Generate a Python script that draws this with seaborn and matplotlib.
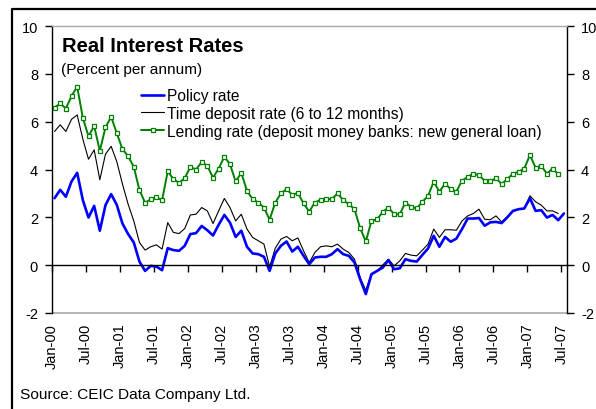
import matplotlib
matplotlib.use("Agg")
import matplotlib.pyplot as plt
from matplotlib.lines import Line2D
import numpy as np
import pandas as pd
import seaborn as sns

# Monthly real interest rates, Jan-2000 onwards (percent per annum)
policy_rate = [
    2.80, 3.15, 2.86, 3.50, 3.86, 2.72, 1.99, 2.48, 1.44, 2.51, 2.97, 2.52,
    1.74, 1.30, 0.95, 0.15, -0.24, -0.03, -0.06, -0.21, 0.71, 0.63, 0.60, 0.81,
    1.30, 1.34, 1.64, 1.46, 1.24, 1.69, 2.10, 1.78, 1.18, 1.44, 0.77, 0.49,
    0.46, 0.35, -0.24, 0.49, 0.81, 0.99, 0.57, 0.77, 0.39, 0.04, 0.32, 0.35,
    0.35, 0.46, 0.67, 0.46, 0.39, 0.11, -0.59, -1.21, -0.38, -0.24, -0.10, 0.21,
    -0.17, -0.13, 0.25, 0.18, 0.15, 0.43, 0.70, 1.23, 0.77, 1.18, 0.98, 1.11,
    1.51, 1.95, 1.95, 1.97, 1.65, 1.79, 1.81, 1.76, 2.00, 2.27, 2.34, 2.37,
    2.80, 2.27, 2.30, 1.99, 2.10, 1.88, 2.16,
]
time_deposit_rate = [
    5.59, 5.87, 5.59, 6.10, 6.28, 5.27, 4.43, 4.82, 3.57, 4.64, 4.97, 4.33,
    3.39, 2.55, 1.85, 0.95, 0.63, 0.77, 0.85, 0.67, 1.78, 1.37, 1.32, 1.53,
    2.10, 2.13, 2.41, 2.27, 1.74, 2.27, 2.79, 2.41, 1.85, 2.13, 1.51, 1.16,
    1.02, 0.88, -0.07, 0.71, 1.09, 1.20, 1.02, 1.14, 0.60, 0.11, 0.53, 0.77,
    0.81, 0.77, 0.88, 0.67, 0.53, 0.25, -0.52, -1.05, -0.35, -0.24, 0.01, 0.25,
    -0.03, 0.18, 0.49, 0.42, 0.39, 0.63, 0.88, 1.51, 1.16, 1.48, 1.48, 1.46,
    1.85, 2.06, 2.16, 2.34, 1.92, 1.90, 2.06, 1.81, 2.02, 2.24, 2.34, 2.37,
    2.90, 2.65, 2.51, 2.27, 2.27, 2.16,
]
lending_rate = [
    6.59, 6.76, 6.55, 7.07, 7.46, 6.16, 5.39, 5.82, 4.78, 5.76, 6.20, 5.52,
    4.85, 4.56, 4.11, 3.14, 2.61, 2.76, 2.83, 2.72, 3.92, 3.60, 3.44, 3.64,
    4.11, 4.00, 4.31, 4.15, 3.66, 4.04, 4.53, 4.22, 3.50, 3.86, 3.11, 2.76,
    2.62, 2.41, 1.90, 2.62, 3.00, 3.18, 2.94, 3.02, 2.58, 2.24, 2.62, 2.73,
    2.76, 2.76, 3.00, 2.72, 2.55, 2.34, 1.55, 0.99, 1.85, 1.92, 2.23, 2.41,
    2.13, 2.13, 2.62, 2.44, 2.37, 2.65, 2.90, 3.49, 3.07, 3.41, 3.18, 3.08,
    3.53, 3.69, 3.83, 3.76, 3.53, 3.50, 3.64, 3.39, 3.60, 3.83, 3.90, 4.04,
    4.60, 4.08, 4.15, 3.83, 4.04, 3.80,
]
tick_labels = ["Jan-00", "Jul-00", "Jan-01", "Jul-01", "Jan-02", "Jul-02",
               "Jan-03", "Jul-03", "Jan-04", "Jul-04", "Jan-05", "Jul-05",
               "Jan-06", "Jul-06", "Jan-07", "Jul-07"]
series_names = ["Policy rate", "Time deposit rate (6 to 12 months)",
                "Lending rate (deposit money banks: new general loan)"]

sns.set_style("white")
plt.rcParams["font.family"] = ["Liberation Sans", "DejaVu Sans"]
plt.rcParams["text.color"] = "black"
plt.rcParams["xtick.color"] = "black"
plt.rcParams["ytick.color"] = "black"

W, H = 596, 410
fig = plt.figure(figsize=(W / 100, H / 100), dpi=100)
ax = fig.add_axes([52 / W, 1 - 314 / H, 515 / W, 287 / H])

# Each observation sits in the middle of its month
def frame(vals):
    return pd.DataFrame({"month": np.arange(len(vals)) + 0.45, "rate": vals})

MARK = dict(marker="s", markersize=3.4, markerfacecolor="white",
            markeredgecolor="#008000", markeredgewidth=0.9)

sns.lineplot(data=frame(lending_rate), x="month", y="rate", ax=ax,
             color="#008000", lw=1.4, label=series_names[2], zorder=3, **MARK)
sns.lineplot(data=frame(time_deposit_rate), x="month", y="rate", ax=ax,
             color="black", lw=0.8, label=series_names[1], zorder=4)
sns.lineplot(data=frame(policy_rate), x="month", y="rate", ax=ax,
             color="#0000FF", lw=1.9, label=series_names[0], zorder=5)

ax.set_xlim(0, 91)
ax.set_ylim(-2, 10)
ax.set_xlabel("")
ax.set_ylabel("")

# Zero line acts as the category axis, with tick marks hanging below it
ax.spines["bottom"].set_position(("data", 0))
ax.spines["bottom"].set_color("black")
ax.spines["bottom"].set_linewidth(1.0)
ax.spines["bottom"].set_zorder(6)
ax.set_xticks(np.arange(0, 91, 6))
ax.tick_params(axis="x", direction="out", length=5, width=1, color="black",
               labelbottom=False, bottom=True)

# Plot-area border above and below
ax.spines["top"].set_visible(True)
ax.spines["top"].set_color("#a8a8a8")
ax.spines["top"].set_linewidth(1.0)
ax.axhline(-2, color="#a8a8a8", lw=1.2, clip_on=False, zorder=1)

# Category labels sit along the bottom of the plot area
sec = ax.secondary_xaxis("bottom")
sec.spines["bottom"].set_visible(False)
sec.set_xticks(np.arange(0, 91, 6))
sec.set_xticklabels(tick_labels, rotation=90, fontsize=10.5, color="black")
sec.tick_params(length=0, pad=7)

# Value axis on both sides
for side in ("left", "right"):
    ax.spines[side].set_visible(True)
    ax.spines[side].set_color("black")
    ax.spines[side].set_linewidth(1.0)
ax.set_yticks(np.arange(-2, 11, 2))
ax.set_yticklabels([str(v) for v in range(-2, 11, 2)])
ax.tick_params(axis="y", direction="out", length=5, width=1, color="black",
               labelcolor="black", left=True, right=True, labelleft=True,
               labelright=True, labelsize=10.5, pad=5)

ax.get_legend().remove()
handles = [
    Line2D([], [], color="#0000FF", lw=1.9),
    Line2D([], [], color="black", lw=0.8),
    Line2D([], [], color="#008000", lw=1.4, **MARK),
]
fig.legend(handles, series_names, loc="upper left",
           bbox_to_anchor=(141 / W, 1 - 89 / H), frameon=False,
           fontsize=11.2, handlelength=1.5, handletextpad=0.2,
           labelspacing=0.18, borderpad=0, borderaxespad=0,
           labelcolor="black")

fig.text(62 / W, 1 - 47 / H, "Real Interest Rates", fontsize=14.5,
         fontweight="bold", va="center", ha="left", color="black")
fig.text(61 / W, 1 - 70 / H, "(Percent per annum)", fontsize=11.1,
         va="center", ha="left", color="black")
fig.text(20 / W, 1 - 395 / H, "Source: CEIC Data Company Ltd.",
         fontsize=11.1, va="center", ha="left", color="black")

# Outer frame along the left and top edges
fig.add_artist(Line2D([12 / W, 12 / W, 1.0], [0.0, 1 - 10 / H, 1 - 10 / H],
                      transform=fig.transFigure, color="black", lw=1.6))

fig.savefig("out.png", dpi=100)
